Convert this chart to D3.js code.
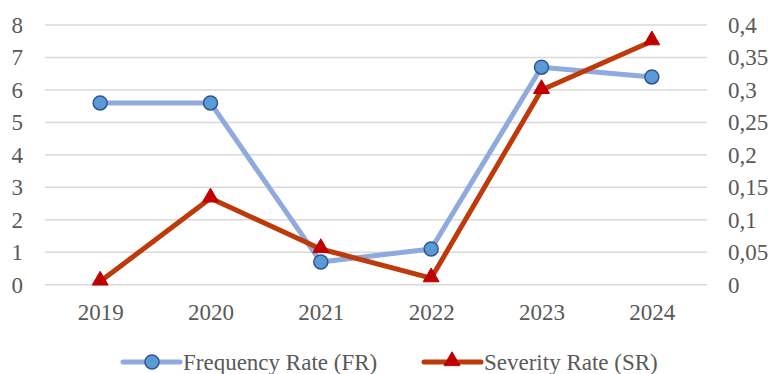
<!DOCTYPE html>
<html>
<head>
<meta charset="utf-8">
<script src="https://cdn.jsdelivr.net/npm/d3@7"></script>
<style>
  body { margin: 0; background: #fff; }
  text { font-family: "Liberation Serif", "Times New Roman", serif; fill: #595959; }
</style>
</head>
<body>
<div id="chart"></div>
<script>
// values
var years = ["2019", "2020", "2021", "2022", "2023", "2024"];
var frequencyRate = [5.6, 5.6, 0.7, 1.1, 6.7, 6.4];
var severityRate = [0.005, 0.133, 0.055, 0.01, 0.3, 0.375];
var leftTicks = [0, 1, 2, 3, 4, 5, 6, 7, 8];
var rightTicks = [0, 0.05, 0.1, 0.15, 0.2, 0.25, 0.3, 0.35, 0.4];
var seriesNames = ["Frequency Rate (FR)", "Severity Rate (SR)"];

function frequencyChart() {
    var width = 771, height = 374;
    var margin = { top: 25, left: 45, right: 64, bottom: 90 };
    var serif = '"Liberation Serif", "Times New Roman", serif';

    var svg = d3.select("#chart").append("svg")
        .attr("width", width)
        .attr("height", height);

    var x = d3.scalePoint()
        .domain(years)
        .range([margin.left, width - margin.right])
        .padding(0.5);

    var yLeft = d3.scaleLinear()
        .domain([0, 8])
        .range([height - margin.bottom + 0.7, margin.top]);

    var yRight = d3.scaleLinear()
        .domain([0, 0.4])
        .range(yLeft.range());

    // gridlines
    svg.append("g").selectAll("line")
        .data(leftTicks)
        .enter().append("line")
        .attr("x1", margin.left)
        .attr("x2", width - margin.right)
        .attr("y1", d => yLeft(d))
        .attr("y2", d => yLeft(d))
        .attr("stroke", "#d9d9d9")
        .attr("stroke-width", 1.5);

    // left axis
    var left = svg.append("g")
        .attr("transform", "translate(" + 23 + ",0)")
        .call(d3.axisLeft(yLeft).tickValues(leftTicks).tickSize(0).tickPadding(0));
    left.select(".domain").remove();

    // right axis, comma decimals
    var right = svg.append("g")
        .attr("transform", "translate(" + 728 + ",0)")
        .call(d3.axisRight(yRight).tickValues(rightTicks).tickSize(0).tickPadding(0)
            .tickFormat(d => String(d).replace(".", ",")));
    right.select(".domain").remove();

    // bottom axis
    var bottom = svg.append("g")
        .attr("transform", "translate(0," + 304 + ")")
        .call(d3.axisBottom(x).tickSize(0).tickPadding(0));
    bottom.select(".domain").remove();

    [left, right, bottom].forEach(g => g
        .attr("font-family", serif)
        .attr("font-size", 23));
    svg.selectAll(".tick text").attr("fill", "#595959");
    bottom.selectAll(".tick text").attr("dy", "0.71em");

    var frLine = d3.line().x((d, i) => x(years[i])).y(d => yLeft(d));
    var srLine = d3.line().x((d, i) => x(years[i])).y(d => yRight(d));

    svg.append("path")
        .datum(frequencyRate)
        .attr("d", frLine)
        .attr("fill", "none")
        .attr("stroke", "#8faadc")
        .attr("stroke-width", 5)
        .attr("stroke-linejoin", "round");

    svg.append("path")
        .datum(severityRate)
        .attr("d", srLine)
        .attr("fill", "none")
        .attr("stroke", "#bf3a0a")
        .attr("stroke-width", 5)
        .attr("stroke-linejoin", "round");

    var tri = d3.symbol().type(d3.symbolTriangle).size(110);

    svg.append("g").selectAll("circle")
        .data(frequencyRate)
        .enter().append("circle")
        .attr("cx", (d, i) => x(years[i]))
        .attr("cy", d => yLeft(d))
        .attr("r", 7)
        .attr("fill", "#5b9bd5")
        .attr("stroke", "#2f5597")
        .attr("stroke-width", 1.5);

    svg.append("g").selectAll("path")
        .data(severityRate)
        .enter().append("path")
        .attr("d", tri)
        .attr("transform", (d, i) => "translate(" + x(years[i]) + "," + (yRight(d) - 1) + ")")
        .attr("fill", "#c00000")
        .attr("stroke", "#c00000")
        .attr("stroke-width", 1);

    // legend
    var legendX = [123, 424];
    var legend = svg.append("g").selectAll("g")
        .data(seriesNames)
        .enter().append("g")
        .attr("transform", (d, i) => "translate(" + legendX[i] + ",362)");

    legend.append("line")
        .attr("x1", 0).attr("x2", 57)
        .attr("stroke", (d, i) => i == 0 ? "#8faadc" : "#bf3a0a")
        .attr("stroke-width", 5)
        .attr("stroke-linecap", "round");

    legend.filter((d, i) => i == 0).append("circle")
        .attr("cx", 29).attr("r", 7)
        .attr("fill", "#5b9bd5")
        .attr("stroke", "#2f5597")
        .attr("stroke-width", 1.5);

    legend.filter((d, i) => i == 1).append("path")
        .attr("d", tri)
        .attr("transform", "translate(28,-1)")
        .attr("fill", "#c00000")
        .attr("stroke", "#c00000");

    legend.append("text")
        .attr("x", 60)
        .attr("y", 8)
        .style("font-size", "23px")
        .text(d => d);
}

frequencyChart();
</script>
</body>
</html>
